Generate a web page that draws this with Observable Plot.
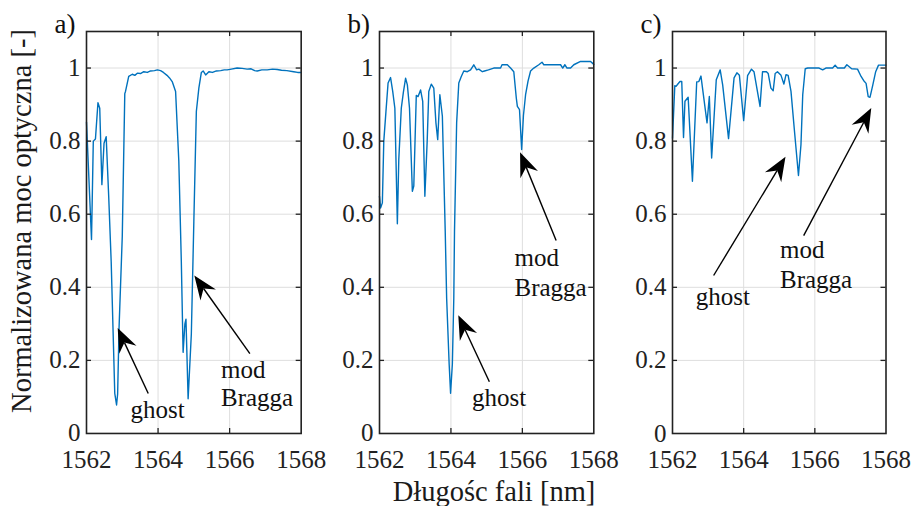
<!DOCTYPE html>
<html>
<head>
<meta charset="utf-8">
<script src="https://cdn.jsdelivr.net/npm/d3@7"></script>
<script src="https://cdn.jsdelivr.net/npm/@observablehq/plot@0.6"></script>
<style>
  body { margin: 0; background: #fff; }
  #chart { position: relative; width: 917px; height: 506px; overflow: hidden;
           font-family: "Liberation Serif", "Times New Roman", serif; color: #1a1a1a; background: #fff; }
  .lbl { position: absolute; white-space: nowrap; font-size: 28.5px; line-height: 28px;
         font-family: "Liberation Serif", "Times New Roman", serif; }
</style>
</head>
<body>
<div id="chart"></div>
<script>
// ---------- data ----------
const xTicks = [1562, 1564, 1566, 1568];
const yTicks = [0, 0.2, 0.4, 0.6, 0.8, 1];
const yLabel = "Normalizowana moc optyczna [-]";
const xLabel = "Długośc fali [nm]";
const panelNames = ["a)", "b)", "c)"];

const wavelengthA = [1562.00,1562.14,1562.19,1562.25,1562.32,1562.37,1562.43,1562.49,1562.55,1562.62,1562.69,1562.74,1562.79,1562.84,1562.87,1562.91,1563.00,1563.07,1563.09,1563.18,1563.28,1563.35,1563.42,1563.51,1563.60,1563.70,1563.79,1563.90,1563.98,1564.07,1564.15,1564.25,1564.32,1564.40,1564.49,1564.58,1564.65,1564.70,1564.75,1564.78,1564.84,1564.93,1565.00,1565.07,1565.14,1565.21,1565.26,1565.33,1565.42,1565.52,1565.63,1565.75,1565.85,1565.93,1566.05,1566.21,1566.35,1566.49,1566.60,1566.70,1566.77,1566.90,1567.05,1567.20,1567.33,1567.45,1567.60,1567.79,1567.90,1568.00];
const powerA = [0.852,0.531,0.800,0.806,0.905,0.890,0.681,0.794,0.812,0.650,0.470,0.290,0.110,0.078,0.108,0.290,0.540,0.930,0.936,0.977,0.983,0.980,0.986,0.985,0.990,0.988,0.992,0.993,0.995,0.993,0.988,0.980,0.973,0.962,0.936,0.745,0.470,0.222,0.300,0.313,0.095,0.272,0.580,0.881,0.945,0.988,0.992,0.981,0.990,0.988,0.992,0.993,0.995,0.995,0.997,1.000,0.999,0.997,0.998,0.993,0.992,0.995,0.995,0.997,0.996,0.994,0.993,0.990,0.988,0.988];

const wavelengthB = [1562.00,1562.03,1562.08,1562.12,1562.18,1562.24,1562.31,1562.37,1562.43,1562.50,1562.54,1562.61,1562.67,1562.73,1562.78,1562.84,1562.92,1562.96,1563.03,1563.08,1563.15,1563.21,1563.27,1563.335,1563.38,1563.45,1563.52,1563.58,1563.63,1563.69,1563.76,1563.84,1563.88,1563.95,1563.99,1564.04,1564.08,1564.10,1564.16,1564.22,1564.29,1564.36,1564.46,1564.55,1564.64,1564.72,1564.78,1564.88,1564.94,1565.05,1565.20,1565.39,1565.43,1565.58,1565.67,1565.76,1565.83,1565.86,1565.92,1565.98,1566.03,1566.09,1566.16,1566.23,1566.32,1566.46,1566.55,1566.60,1566.88,1567.07,1567.13,1567.19,1567.25,1567.35,1567.44,1567.63,1567.81,1567.91,1568.00];
const powerB = [0.649,0.617,0.631,0.800,0.880,0.959,0.974,0.936,0.890,0.574,0.750,0.890,0.935,0.972,0.954,0.890,0.663,0.677,0.925,0.922,0.940,0.909,0.649,0.800,0.936,0.956,0.945,0.850,0.804,0.927,0.868,0.554,0.370,0.190,0.110,0.190,0.370,0.554,0.850,0.959,0.977,0.992,0.990,0.995,1.009,0.995,0.997,0.990,0.992,0.995,1.000,1.000,1.009,1.009,1.000,0.990,0.918,0.895,0.886,0.777,0.870,0.927,0.965,0.992,1.000,1.009,1.016,1.009,1.009,1.009,1.000,1.009,1.000,1.000,1.009,1.018,1.018,1.018,1.010];

const wavelengthC = [1562.00,1562.065,1562.10,1562.14,1562.21,1562.26,1562.31,1562.35,1562.44,1562.56,1562.68,1562.74,1562.80,1562.97,1563.035,1563.10,1563.23,1563.34,1563.41,1563.575,1563.73,1563.81,1563.88,1564.00,1564.11,1564.22,1564.29,1564.46,1564.53,1564.64,1564.69,1564.765,1564.83,1564.885,1564.95,1565.05,1565.13,1565.19,1565.25,1565.33,1565.42,1565.54,1565.61,1565.66,1565.73,1565.80,1566.12,1566.22,1566.31,1566.50,1566.57,1566.64,1566.83,1566.90,1567.035,1567.20,1567.30,1567.37,1567.44,1567.50,1567.55,1567.63,1567.71,1567.79,1568.00];
const powerC = [0.808,0.952,0.950,0.955,0.963,0.963,0.810,0.909,0.920,0.690,0.962,0.963,0.978,0.850,0.922,0.754,0.968,0.995,0.954,0.807,0.973,0.987,0.980,0.856,0.979,0.997,0.990,0.895,0.990,0.990,0.985,0.945,0.938,0.985,0.990,0.980,0.956,0.982,0.980,0.936,0.836,0.706,0.790,0.927,0.998,1.000,1.000,0.995,1.000,1.000,1.008,1.000,1.000,1.009,0.998,0.997,0.977,0.966,0.958,0.922,0.920,0.954,0.990,1.008,1.008];

// annotations: arrows (tail -> tip) and texts, in data units
const arrowPanel = [0, 0, 1, 1, 2, 2];
const arrowTailX = [1563.74, 1566.58, 1565.09, 1566.96, 1563.17, 1565.70];
const arrowTailY = [0.108, 0.217, 0.140, 0.527, 0.431, 0.540];
const arrowTipX  = [1562.886, 1565.027, 1564.22, 1565.95, 1565.19, 1567.60];
const arrowTipY  = [0.287, 0.431, 0.322, 0.768, 0.756, 0.889];

const notePanel = [0, 0, 0, 1, 1, 1, 2, 2, 2];
const noteText  = ["ghost", "mod", "Bragga", "ghost", "mod", "Bragga", "ghost", "mod", "Bragga"];
const noteX     = [1563.23, 1565.76, 1565.76, 1564.59, 1565.78, 1565.78, 1562.655, 1565.02, 1565.02];
const noteY     = [0.063, 0.175, 0.098, 0.098, 0.480, 0.398, 0.374, 0.503, 0.421];

// ---------- layout ----------
const W = 917, H = 506;
const mL = 45, mR = 30, mT = 31, mB = 73;
const innerH = H - mT - mB;
const serif = "'Liberation Serif', 'Times New Roman', serif";
const layout = [
  {left: 86, w: 214.7, wl: wavelengthA, p: powerA},
  {left: 379, w: 214.3, wl: wavelengthB, p: powerB},
  {left: 671.7, w: 213.5, wl: wavelengthC, p: powerC}
];
const ink = "#222222";

function arrowsMark(rows) {
  return (index, scales) => {
    const g = d3.create("svg:g");
    for (const r of rows) {
      const x1 = scales.x(r.x1), y1 = scales.y(r.y1), x2 = scales.x(r.x2), y2 = scales.y(r.y2);
      const dx = x2 - x1, dy = y2 - y1, len = Math.hypot(dx, dy);
      const ux = dx / len, uy = dy / len, px = -uy, py = ux;
      const L = 24, HW = 9.5, N = 16;
      const bx = x2 - ux * L, by = y2 - uy * L;
      const nx = x2 - ux * N, ny = y2 - uy * N;
      g.append("line").attr("x1", x1).attr("y1", y1).attr("x2", nx).attr("y2", ny)
        .attr("stroke", "#000").attr("stroke-width", 1.4);
      g.append("path")
        .attr("d", `M${x2},${y2}L${bx + px * HW},${by + py * HW}L${nx},${ny}L${bx - px * HW},${by - py * HW}Z`)
        .attr("fill", "#000");
    }
    return g.node();
  };
}

const chart = document.getElementById("chart");

layout.forEach((P, k) => {
  const data = P.wl.map((x, i) => ({x, y: P.p[i]}));
  const arrows = arrowPanel.map((pp, i) => ({pp, x1: arrowTailX[i], y1: arrowTailY[i], x2: arrowTipX[i], y2: arrowTipY[i]})).filter(d => d.pp === k);
  const notes = notePanel.map((pp, i) => ({pp, t: noteText[i], x: noteX[i], y: noteY[i]})).filter(d => d.pp === k);
  const svg = Plot.plot({
    width: mL + P.w + mR,
    height: H,
    marginLeft: mL, marginRight: mR, marginTop: mT, marginBottom: mB,
    style: `background: transparent; overflow: visible; font-family: ${serif}; font-size: 25px; color: ${ink};`,
    x: {domain: [1562, 1568]},
    y: {domain: [0, 1.1]},
    marks: [
      Plot.gridX(xTicks.slice(1, -1), {stroke: "#dedede", strokeOpacity: 1, strokeWidth: 1}),
      Plot.gridY(yTicks.slice(1), {stroke: "#dedede", strokeOpacity: 1, strokeWidth: 1}),
      Plot.line(data, {x: "x", y: "y", stroke: "#0072BD", strokeWidth: 1.4}),
      Plot.tickX(xTicks.slice(1, -1), {x: d => d, insetTop: innerH - 5, stroke: ink, strokeWidth: 1.3}),
      Plot.tickX(xTicks.slice(1, -1), {x: d => d, insetBottom: innerH - 5, stroke: ink, strokeWidth: 1.3}),
      Plot.tickY(yTicks.slice(1), {y: d => d, insetRight: P.w - 5, stroke: ink, strokeWidth: 1.3}),
      Plot.tickY(yTicks.slice(1), {y: d => d, insetLeft: P.w - 5, stroke: ink, strokeWidth: 1.3}),
      Plot.frame({stroke: ink, strokeWidth: 1.6}),
      Plot.axisX(xTicks, {tickSize: 0, tickPadding: 17, fontSize: 25, fontFamily: serif, label: null, fill: ink, tickFormat: d => String(d)}),
      Plot.axisY(yTicks, {tickSize: 0, tickPadding: 6, fontSize: 25, fontFamily: serif, label: null, fill: ink, tickFormat: d => String(d)}),
      arrowsMark(arrows),
      Plot.text(notes, {x: "x", y: "y", text: "t", textAnchor: "start", lineAnchor: "middle", fontSize: 25, fontFamily: serif, fill: "#111"}),
      Plot.text([panelNames[k]], {frameAnchor: "top-left", text: d => d, dx: -32, dy: -7, textAnchor: "start", lineAnchor: "middle", fontSize: 27, fontFamily: serif, fill: "#111"})
    ]
  });
  svg.style.position = "absolute";
  svg.style.left = (P.left - mL) + "px";
  svg.style.top = "0px";
  chart.appendChild(svg);
});

const yl = document.createElement("div");
yl.className = "lbl";
yl.textContent = yLabel;
yl.style.left = "21.5px";
yl.style.top = "220.5px";
yl.style.transform = "translate(-50%, -50%) rotate(-90deg)";
chart.appendChild(yl);

const xl = document.createElement("div");
xl.className = "lbl";
xl.textContent = xLabel;
xl.style.left = "494px";
xl.style.top = "478px";
xl.style.transform = "translateX(-50%)";
chart.appendChild(xl);
</script>
</body>
</html>
